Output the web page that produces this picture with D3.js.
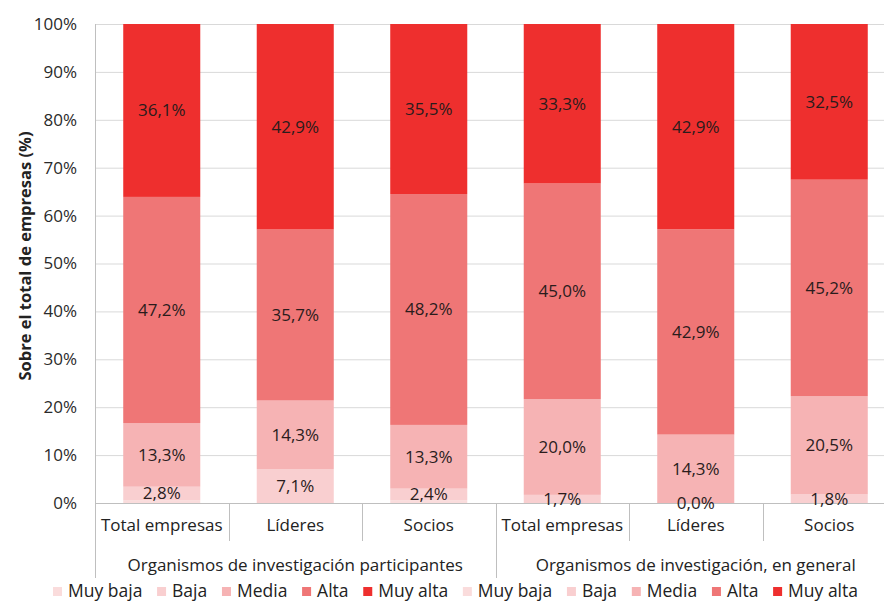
<!DOCTYPE html>
<html><head><meta charset="utf-8">
<script src="https://cdn.jsdelivr.net/npm/d3@7"></script>
<style>
html,body{margin:0;padding:0;background:#fff;}
svg text{font-family:"Open Sans",Lato,sans-serif;}
</style></head>
<body><svg id="c" width="884" height="604"></svg>
<script>
const categories = ["Total empresas","Líderes","Socios","Total empresas","Líderes","Socios"];
const groups = ["Organismos de investigación participantes","Organismos de investigación, en general"];
const seriesNames = ["Muy baja","Baja","Media","Alta","Muy alta"];
const muyBaja = [0.6, 0.0, 0.6, 0.0, 0.0, 0.0];
const baja    = [2.8, 7.1, 2.4, 1.7, 0.0, 1.8];
const media   = [13.3, 14.3, 13.3, 20.0, 14.3, 20.5];
const alta    = [47.2, 35.7, 48.2, 45.0, 42.9, 45.2];
const muyAlta = [36.1, 42.9, 35.5, 33.3, 42.9, 32.5];
const yTicks = [0,10,20,30,40,50,60,70,80,90,100];
const colors = ["#fadcdc","#f9cfd0","#f6b3b4","#ef7676","#ee2f2e"];
const labelled = [false,true,true,true,true];

const svg = d3.select("#c");
const W=884,H=604, L=95, R=896, T=24, B=503;
const rows = categories.map((c,i)=>({i, "Muy baja":muyBaja[i], "Baja":baja[i], "Media":media[i], "Alta":alta[i], "Muy alta":muyAlta[i]}));
const stack = d3.stack().keys(seriesNames).offset(d3.stackOffsetExpand)(rows);
const x = d3.scaleBand().domain(d3.range(categories.length)).range([L,R]).paddingInner(0.423).paddingOuter(0.2115);
const y = d3.scaleLinear().domain([0,1]).range([B,T]);
const loc = d3.formatLocale({decimal:",",thousands:".",grouping:[3],currency:["","€"]});
const fmt = loc.format(".1f");
const FS = 17;

// gridlines
svg.append("g").selectAll("line").data(yTicks).join("line")
  .attr("x1",L).attr("x2",W).attr("y1",d=>y(d/100)+0.5).attr("y2",d=>y(d/100)+0.5)
  .attr("stroke",d=>d===0?"#bfbfbf":"#d9d9d9").attr("stroke-width",1);
// y axis
const yAxis = d3.axisLeft(y).tickValues(yTicks.map(d=>d/100)).tickFormat((d,i)=>yTicks[i]+"%").tickSize(0).tickPadding(18);
const ya = svg.append("g").attr("transform",`translate(${L},0)`).call(yAxis);
ya.select(".domain").remove();
ya.selectAll("text").attr("font-size",FS).attr("fill","#2a2a2a").attr("font-family","'Open Sans',sans-serif");
// left axis line
svg.append("line").attr("x1",L+0.5).attr("x2",L+0.5).attr("y1",T).attr("y2",578).attr("stroke","#bfbfbf");
// bars
const gs = svg.append("g").selectAll("g").data(stack).join("g").attr("fill",(d,i)=>colors[i]);
gs.selectAll("rect").data(d=>d).join("rect")
  .attr("x",d=>x(d.data.i)).attr("width",x.bandwidth())
  .attr("y",d=>y(d[1])).attr("height",d=>Math.max(0,y(d[0])-y(d[1])));
// value labels
stack.forEach((s,si)=>{
  if(!labelled[si]) return;
  svg.append("g").selectAll("text").data(s).join("text")
    .attr("x",d=>x(d.data.i)+x.bandwidth()/2)
    .attr("y",d=>(y(d[0])+y(d[1]))/2)
    .attr("dy","0.35em").attr("text-anchor","middle")
    .attr("font-size",FS).attr("fill","#2a1c1c")
    .text(d=>fmt(d.data[s.key])+"%");
});
// category separators
const step = x.step();
for(let k=1;k<categories.length;k++){
  const xx = Math.round(L+step*k)+0.5;
  svg.append("line").attr("x1",xx).attr("x2",xx).attr("y1",B).attr("y2",k===3?578:541).attr("stroke","#bfbfbf");
}
// category labels
svg.append("g").selectAll("text").data(categories).join("text")
  .attr("x",(d,i)=>x(i)+x.bandwidth()/2).attr("y",531)
  .attr("text-anchor","middle").attr("font-size",FS).attr("fill","#222").text(d=>d);
// group labels
svg.append("g").selectAll("text").data(groups).join("text")
  .attr("x",(d,i)=>L+step*(i*3+1.5)).attr("y",571)
  .attr("text-anchor","middle").attr("font-size",FS).attr("fill","#222").text(d=>d);
// y title
svg.append("text").attr("transform",`translate(31,256) rotate(-90)`)
  .attr("text-anchor","middle").attr("font-size",16.5).attr("font-weight","bold").attr("fill","#222")
  .text("Sobre el total de empresas (%)");
// legend (doubled as in reference)
const legItems = seriesNames.concat(seriesNames).map((n,i)=>({n, c:colors[i%5]}));
const lg = svg.append("g");
const LFS = 17.5, legStart = 53, legEnd = 858, sqGap = 15;
const texts = legItems.map(it=>lg.append("text").attr("y",597).attr("font-size",LFS).attr("fill","#222").text(it.n));
const widths = texts.map(t=>t.node().getComputedTextLength());
const gap = (legEnd - legStart - d3.sum(widths) - sqGap*legItems.length)/(legItems.length-1);
let lx = legStart;
legItems.forEach((it,i)=>{
  lg.append("rect").attr("x",lx).attr("y",587).attr("width",9).attr("height",9).attr("fill",it.c);
  texts[i].attr("x",lx+sqGap);
  lx += sqGap + widths[i] + gap;
});
</script></body></html>
